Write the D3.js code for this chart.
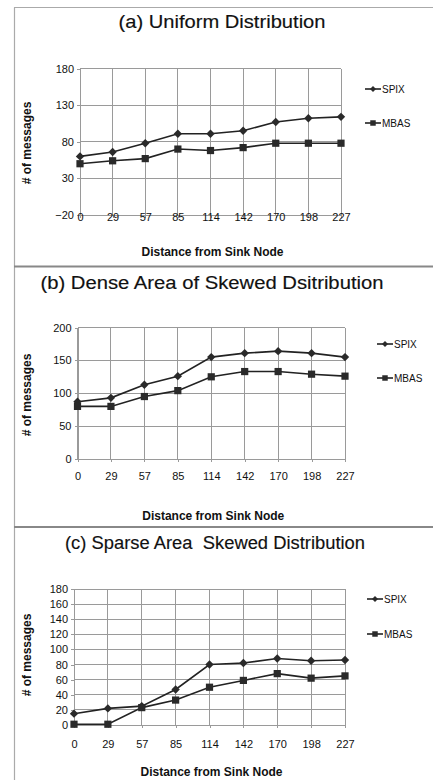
<!DOCTYPE html>
<html>
<head>
<meta charset="utf-8">
<script src="https://cdn.jsdelivr.net/npm/d3@7"></script>
<style>
  body { margin: 0; background: #fff; }
  svg { display: block; }
  text { font-family: "Liberation Sans", Arial, sans-serif; fill: #111; }
  .grid line { stroke: #9a9a9a; stroke-width: 1; shape-rendering: crispEdges; }
  .axis path, .axis line { stroke: #9a9a9a; shape-rendering: crispEdges; }
  .axis text { font-size: 11px; }
  .series { fill: none; stroke: #222; stroke-width: 1.6; }
  .title { font-size: 17.5px; stroke: #111; stroke-width: 0.15px; white-space: pre; }
</style>
</head>
<body>
<svg class="chart"></svg>
<script>
// distances on the x axis
var distances = ["0", "29", "57", "85", "114", "142", "170", "198", "227"];

// (a) uniform distribution
var uniformSpix = [60, 66, 78, 91, 91, 95, 107, 112, 114];
var uniformMbas = [50, 54, 57, 70, 68, 72, 78, 78, 78];
var uniformTicks = [-20, 30, 80, 130, 180];

// (b) dense area of skewed distribution
var denseSpix = [87, 93, 113, 126, 155, 161, 164, 161, 155];
var denseMbas = [80, 80, 95, 104, 125, 133, 133, 129, 126];
var denseTicks = [0, 50, 100, 150, 200];

// (c) sparse area skewed distribution
var sparseSpix = [15, 22, 25, 47, 80, 82, 88, 85, 86];
var sparseMbas = [1, 1, 23, 33, 50, 59, 68, 62, 65];
var sparseTicks = [0, 20, 40, 60, 80, 100, 120, 140, 160, 180];

var seriesNames = ["SPIX", "MBAS"];

var panels = [
    {title: "(a) Uniform Distribution", spix: uniformSpix, mbas: uniformMbas, ticks: uniformTicks,
     left: 80, right: 341, top: 68.5, bottom: 215, titleX: 222, titleY: 28, titleW: 207,
     labelPad: -5, xTitleY: 256, yTitleY: 143, legX: 365, legY: [89, 123]},
    {title: "(b) Dense Area of Skewed Dsitribution", spix: denseSpix, mbas: denseMbas, ticks: denseTicks,
     left: 77.5, right: 345, top: 327.5, bottom: 459, titleX: 212, titleY: 289, titleW: 343,
     labelPad: 10, xTitleY: 520, yTitleY: 395, legX: 377, legY: [344, 378]},
    {title: "(c) Sparse Area  Skewed Distribution", spix: sparseSpix, mbas: sparseMbas, ticks: sparseTicks,
     left: 74, right: 345, top: 589, bottom: 725, titleX: 215, titleY: 549, titleW: 300,
     labelPad: 12, xTitleY: 776, yTitleY: 655, legX: 367, legY: [599, 634]}
];

var svg = d3.select(".chart")
    .attr("width", 433)
    .attr("height", 780);

// outer frame and panel separators
svg.append("line").attr("x1", 14.5).attr("x2", 14.5).attr("y1", 7.5).attr("y2", 780)
    .attr("stroke", "#aaa").attr("stroke-width", 1.2);
svg.append("line").attr("x1", 14).attr("x2", 433).attr("y1", 7.5).attr("y2", 7.5)
    .attr("stroke", "#aaa").attr("stroke-width", 1.2);
[266.5, 527].forEach(function(y) {
    svg.append("line").attr("x1", 14).attr("x2", 433).attr("y1", y).attr("y2", y)
        .attr("stroke", "#888").attr("stroke-width", 2);
});

var diamond = "M0,-4.2L4.2,0L0,4.2L-4.2,0Z";
var square = d3.symbol().type(d3.symbolSquare).size(52)();

function renderPanel(p) {
    var x = d3.scalePoint().domain(distances).range([p.left, p.right]);
    var y = d3.scaleLinear().domain(d3.extent(p.ticks)).range([p.bottom, p.top]);

    var g = svg.append("g");

    g.append("text")
        .attr("class", "title")
        .attr("x", p.titleX).attr("y", p.titleY)
        .attr("text-anchor", "middle")
        .attr("textLength", p.titleW)
        .attr("lengthAdjust", "spacingAndGlyphs")
        .text(p.title);

    var grid = g.append("g").attr("class", "grid");
    grid.selectAll(".h").data(p.ticks).enter().append("line")
        .attr("x1", p.left).attr("x2", p.right)
        .attr("y1", function(d) { return y(d); })
        .attr("y2", function(d) { return y(d); });
    grid.selectAll(".v").data(distances).enter().append("line")
        .attr("x1", function(d) { return x(d); })
        .attr("x2", function(d) { return x(d); })
        .attr("y1", p.top).attr("y2", p.bottom);

    var yAxis = d3.axisLeft(y).tickValues(p.ticks).tickSizeInner(3).tickSizeOuter(0).tickPadding(3);
    g.append("g").attr("class", "axis")
        .attr("transform", "translate(" + p.left + ",0)")
        .call(yAxis);

    var xAxis = d3.axisBottom(x).tickSizeInner(3).tickSizeOuter(0).tickPadding(p.labelPad);
    g.append("g").attr("class", "axis")
        .attr("transform", "translate(0," + p.bottom + ")")
        .call(xAxis);

    g.append("text")
        .attr("x", (p.left + p.right) / 2 + 2).attr("y", p.xTitleY)
        .attr("text-anchor", "middle")
        .style("font-size", "12px").style("font-weight", "bold")
        .text("Distance from Sink Node");

    g.append("text")
        .attr("transform", "translate(31," + p.yTitleY + ") rotate(-90)")
        .attr("text-anchor", "middle")
        .style("font-size", "12px").style("font-weight", "bold")
        .text("# of messages");

    var line = d3.line()
        .x(function(d, i) { return x(distances[i]); })
        .y(function(d) { return y(d); });

    [p.spix, p.mbas].forEach(function(vals, k) {
        g.append("path").attr("class", "series").attr("d", line(vals));
        g.selectAll(".m" + k).data(vals).enter().append("path")
            .attr("transform", function(d, i) { return "translate(" + x(distances[i]) + "," + y(d) + ")"; })
            .attr("d", k === 0 ? diamond : square)
            .attr("fill", "#2a2a2a");
    });

    // legend
    seriesNames.forEach(function(name, k) {
        var ly = p.legY[k];
        g.append("line").attr("class", "series")
            .attr("x1", p.legX).attr("x2", p.legX + 16).attr("y1", ly).attr("y2", ly);
        g.append("path")
            .attr("transform", "translate(" + (p.legX + 8) + "," + ly + ")")
            .attr("d", k === 0 ? "M0,-3L3,0L0,3L-3,0Z" : d3.symbol().type(d3.symbolSquare).size(30)())
            .attr("fill", "#2a2a2a");
        g.append("text")
            .attr("x", p.legX + 17).attr("y", ly + 3.5)
            .style("font-size", "10px")
            .text(name);
    });
}

panels.forEach(renderPanel);
</script>
</body>
</html>
